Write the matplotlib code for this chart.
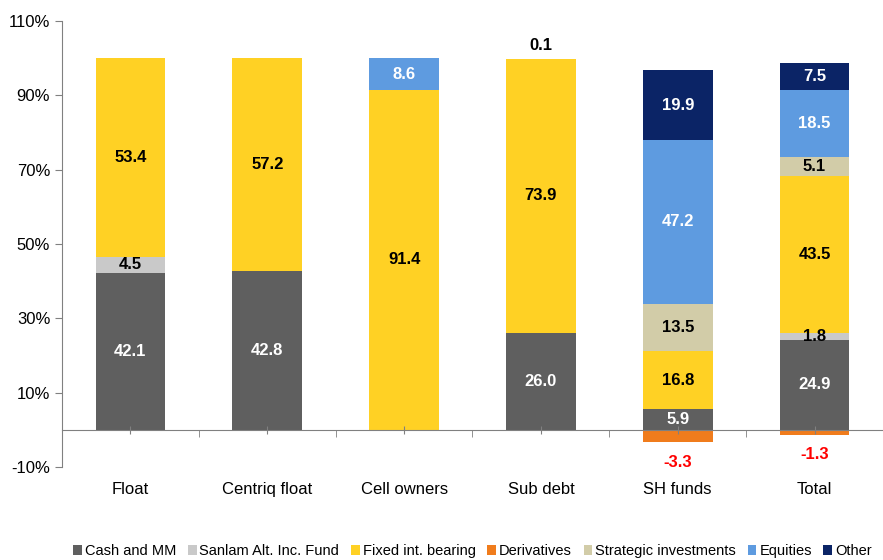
import numpy as np
import matplotlib.pyplot as plt
from matplotlib.patches import Patch

plt.rcParams['font.family'] = ['Liberation Sans Narrow', 'Liberation Sans', 'DejaVu Sans']

categories = ['Float', 'Centriq float', 'Cell owners', 'Sub debt', 'SH funds', 'Total']
series = ['Cash and MM', 'Sanlam Alt. Inc. Fund', 'Fixed int. bearing', 'Derivatives',
          'Strategic investments', 'Equities', 'Other']

cash = [42.1, 42.8, 0.0, 26.0, 5.9, 24.9]
sanlam = [4.5, 0.0, 0.0, 0.0, 0.0, 1.8]
fixed = [53.4, 57.2, 91.4, 73.9, 16.8, 43.5]
derivatives = [0.0, 0.0, 0.0, 0.0, -3.3, -1.3]
strategic = [0.0, 0.0, 0.0, 0.1, 13.5, 5.1]
equities = [0.0, 0.0, 8.6, 0.0, 47.2, 18.5]
other = [0.0, 0.0, 0.0, 0.0, 19.9, 7.5]

colors = ['#5f5f5f', '#c9c9c9', '#ffd124', '#f07c1c', '#d2cca8', '#5e9be0', '#0b2466']
label_colors = ['white', 'black', 'black', 'red', 'black', 'white', 'white']

values = np.array([cash, sanlam, fixed, derivatives, strategic, equities, other])

fig = plt.figure(figsize=(8.83, 5.6), dpi=100)
ax = fig.add_axes([62 / 883, 1 - 467 / 560, 1 - 62 / 883, (467 - 21) / 560])

x = np.arange(len(categories))
w = 0.51

# positive parts are shown as shares of (100 - negative part)
pos = np.where(values > 0, values, 0)
neg = np.where(values < 0, values, 0)
scale = (100 + neg.sum(axis=0)) / pos.sum(axis=0)
heights = pos * scale

bottom = np.zeros(len(categories))
for i, name in enumerate(series):
    if name == 'Derivatives':
        ax.bar(x, neg[i], w, color=colors[i], edgecolor='none')
        for j in range(len(categories)):
            if neg[i][j] < 0:
                ax.text(x[j], neg[i][j] - 5.4, '%.1f' % neg[i][j], ha='center', va='center',
                        color='red', fontsize=12, fontweight='bold')
        continue
    # tiny slices (0.1) are not visible in the chart
    h = np.where(heights[i] < 0.5, 0, heights[i])
    ax.bar(x, h, w, bottom=bottom, color=colors[i], edgecolor='none')
    for j in range(len(categories)):
        v = values[i][j]
        if v <= 0:
            continue
        if v < 1:
            ax.text(x[j], bottom[j] + heights[i][j] + 3.5, '%.1f' % v, ha='center', va='center',
                    color='black', fontsize=12, fontweight='bold')
        else:
            ax.text(x[j], bottom[j] + heights[i][j] / 2, '%.1f' % v, ha='center', va='center',
                    color=label_colors[i], fontsize=12, fontweight='bold')
    bottom += heights[i]

ax.set_ylim(-10, 110)
ax.set_xlim(-0.5, 5.457)
ax.set_yticks(np.arange(-10, 111, 20))
ax.set_yticklabels(['%d%%' % t for t in np.arange(-10, 111, 20)], fontsize=12)

for s in ['top', 'right']:
    ax.spines[s].set_visible(False)
ax.spines['left'].set_color('#808080')
ax.spines['bottom'].set_position(('data', 0))
ax.spines['bottom'].set_color('#808080')
ax.tick_params(axis='y', colors='#808080', labelcolor='black', length=5)

ax.set_xticks(x)
ax.set_xticklabels([])
ax.tick_params(axis='x', direction='inout', length=6, colors='#808080')
ax.set_xticks(np.arange(-0.5, 6, 1), minor=True)
ax.tick_params(axis='x', which='minor', direction='out', length=5, colors='#808080')

for j, c in enumerate(categories):
    ax.text(x[j], -0.05, c, transform=ax.get_xaxis_transform(), ha='center', va='center',
            fontsize=12)

handles = [Patch(facecolor=colors[i], edgecolor='none', label=series[i]) for i in range(len(series))]
fig.legend(handles=handles, loc='lower center', bbox_to_anchor=(0.535, -0.02), ncol=7,
           frameon=False, fontsize=10.5, handlelength=0.6, handleheight=0.6,
           handletextpad=0.2, columnspacing=0.8)

fig.savefig('out.png', dpi=100)
